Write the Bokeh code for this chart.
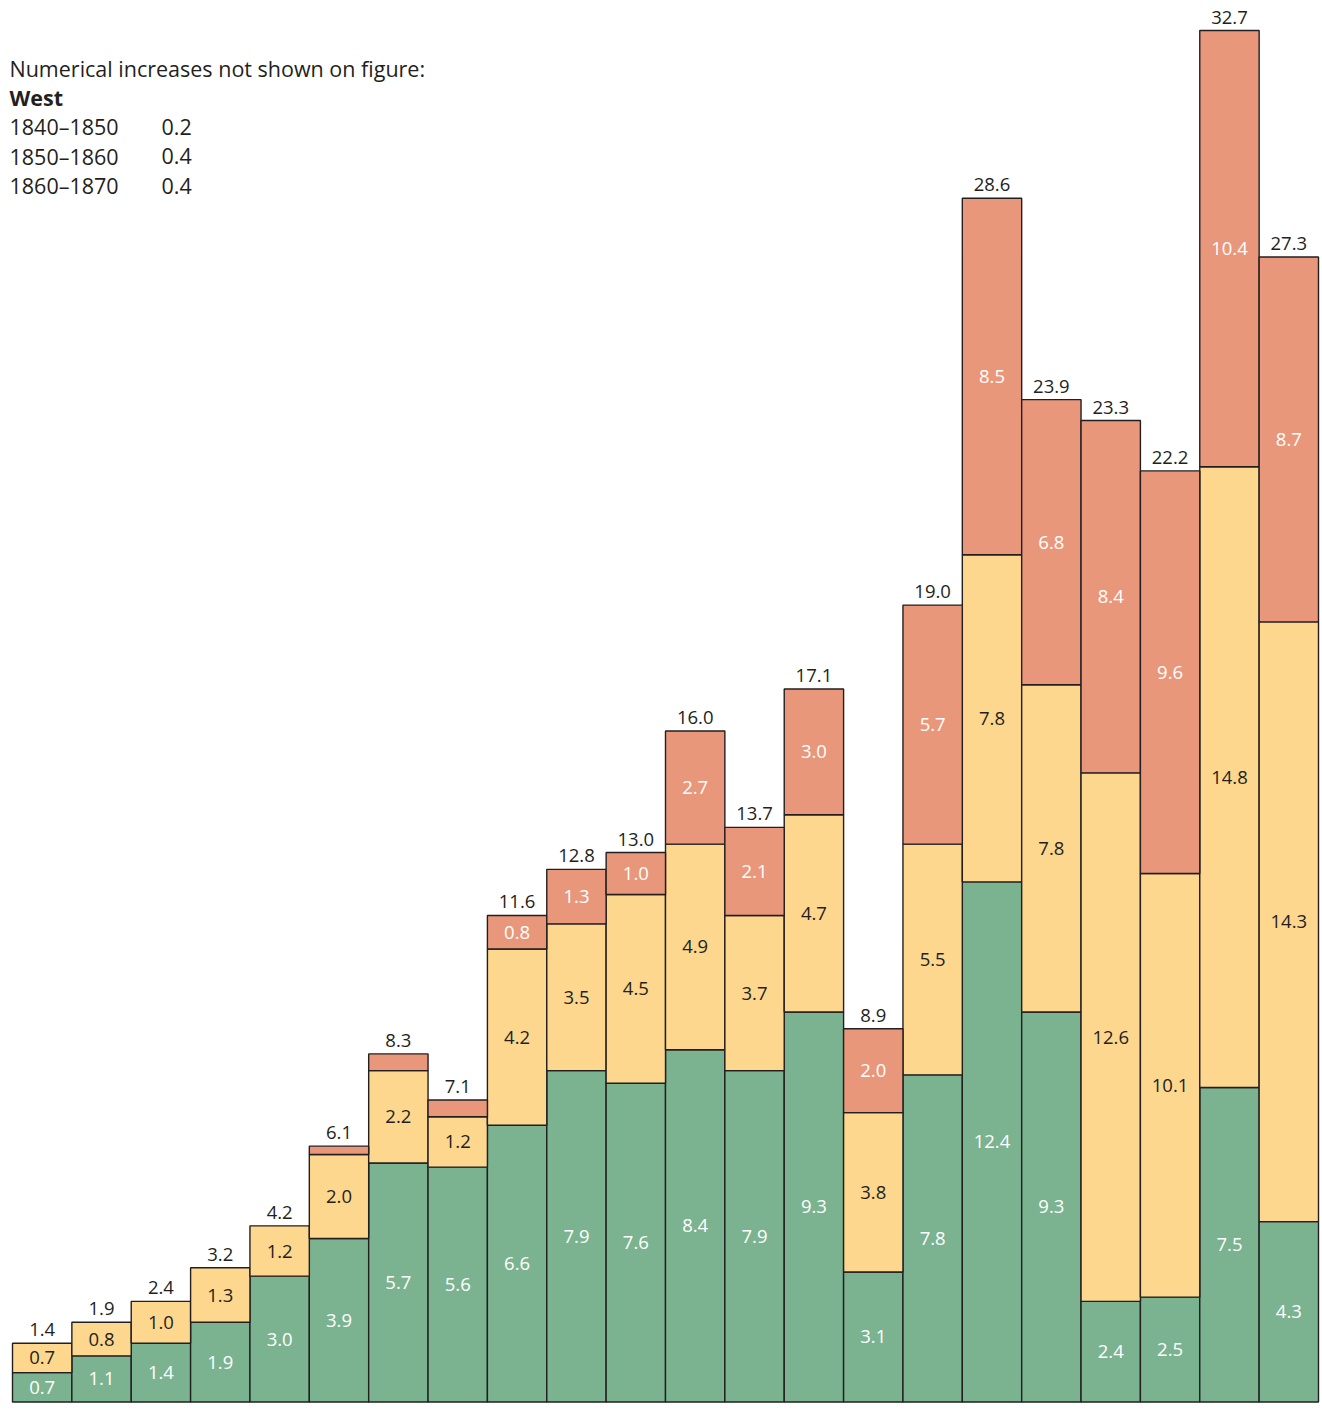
import numpy as np
from bokeh.plotting import figure
from bokeh.models import ColumnDataSource, Range1d, Label
from bokeh.core.properties import value
from bokeh.embed import file_html
from bokeh.resources import INLINE

# ---- data ----
periods = ["1790–1800", "1800–1810", "1810–1820", "1820–1830", "1830–1840",
           "1840–1850", "1850–1860", "1860–1870", "1870–1880", "1880–1890",
           "1890–1900", "1900–1910", "1910–1920", "1920–1930", "1930–1940",
           "1940–1950", "1950–1960", "1960–1970", "1970–1980", "1980–1990",
           "1990–2000", "2000–2010"]
green = [0.7, 1.1, 1.4, 1.9, 3.0, 3.9, 5.7, 5.6, 6.6, 7.9, 7.6, 8.4, 7.9, 9.3,
         3.1, 7.8, 12.4, 9.3, 2.4, 2.5, 7.5, 4.3]
yellow = [0.7, 0.8, 1.0, 1.3, 1.2, 2.0, 2.2, 1.2, 4.2, 3.5, 4.5, 4.9, 3.7, 4.7,
          3.8, 5.5, 7.8, 7.8, 12.6, 10.1, 14.8, 14.3]
red = [0.0, 0.0, 0.0, 0.0, 0.0, 0.2, 0.4, 0.4, 0.8, 1.3, 1.0, 2.7, 2.1, 3.0,
       2.0, 5.7, 8.5, 6.8, 8.4, 9.6, 10.4, 8.7]
totals = [1.4, 1.9, 2.4, 3.2, 4.2, 6.1, 8.3, 7.1, 11.6, 12.8, 13.0, 16.0, 13.7,
          17.1, 8.9, 19.0, 28.6, 23.9, 23.3, 22.2, 32.7, 27.3]
note_title = "Numerical increases not shown on figure:"
note_region = "West"
note_periods = ["1840–1850", "1850–1860", "1860–1870"]
note_values = ["0.2", "0.4", "0.4"]

C_GREEN = "#7bb390"
C_YELLOW = "#fdd78d"
C_RED = "#e9977b"
C_LINE = "#231f20"
FONT = "Open Sans"

n = len(periods)
x = np.arange(n)
g = np.array(green)
yv = np.array(yellow)
r = np.array(red)

W, H = 1322, 1410
# pixel geometry
left_px, right_px = 12, 1318
base_px, top_px = 1401.5, 30
ppu_x = (right_px - left_px) / n
ppu_y = (base_px - top_px) / max(g + yv + r)

p = figure(width=W, height=H, output_backend="svg", toolbar_location=None,
           min_border=0, min_border_left=0, min_border_right=0,
           min_border_top=0, min_border_bottom=0)
p.x_range = Range1d(-0.5 - left_px / ppu_x, -0.5 + (W - left_px) / ppu_x)
p.y_range = Range1d(-(H - base_px) / ppu_y, base_px / ppu_y)
p.axis.visible = False
p.grid.visible = False
p.outline_line_color = None
p.background_fill_color = "white"
p.border_fill_color = "white"

src = ColumnDataSource(dict(
    x=x, g0=np.zeros(n), g1=g, y1=g + yv, r1=g + yv + r,
))
p.vbar(x="x", width=1, bottom="g0", top="g1", source=src, fill_color=C_GREEN,
       line_color=C_LINE, line_width=1.4)
p.vbar(x="x", width=1, bottom="g1", top="y1", source=src, fill_color=C_YELLOW,
       line_color=C_LINE, line_width=1.4)
mask = r > 0
src_r = ColumnDataSource(dict(x=x[mask], b=(g + yv)[mask], t=(g + yv + r)[mask]))
p.vbar(x="x", width=1, bottom="b", top="t", source=src_r, fill_color=C_RED,
       line_color=C_LINE, line_width=1.4)

fs = "18.5px"
# green labels (white)
p.text(x=x, y=g / 2, text=[f"{v:.1f}" for v in g], text_color="white",
       text_align="center", text_baseline="middle", text_font=value(FONT),
       text_font_size=fs)
# yellow labels (black)
p.text(x=x, y=g + yv / 2, text=[f"{v:.1f}" for v in yv], text_color=C_LINE,
       text_align="center", text_baseline="middle", text_font=value(FONT),
       text_font_size=fs)
# red labels (white) only for segments large enough
rl = r >= 0.8
p.text(x=x[rl], y=(g + yv + r / 2)[rl], text=[f"{v:.1f}" for v in r[rl]],
       text_color="white", text_align="center", text_baseline="middle",
       text_font=value(FONT), text_font_size=fs)
# totals
p.text(x=x, y=g + yv + r, text=[f"{v:.1f}" for v in totals], text_color=C_LINE,
       text_align="center", text_baseline="bottom", y_offset=-7,
       text_font=value(FONT), text_font_size=fs)

# note block (screen coords from bottom of frame)
def sy(py):
    return H - py

nfs = "21.5px"
p.add_layout(Label(x=9, y=sy(68), x_units="screen", y_units="screen",
                   text=note_title, text_font=FONT, text_font_size=nfs,
                   text_color=C_LINE, text_baseline="alphabetic"))
p.add_layout(Label(x=9, y=sy(97), x_units="screen", y_units="screen",
                   text=note_region, text_font=FONT, text_font_size=nfs,
                   text_font_style="bold", text_color=C_LINE,
                   text_baseline="alphabetic"))
for i, (per, val) in enumerate(zip(note_periods, note_values)):
    yy = sy(126 + i * 29.5)
    p.add_layout(Label(x=9, y=yy, x_units="screen", y_units="screen",
                       text=per, text_font=FONT, text_font_size=nfs,
                       text_color=C_LINE, text_baseline="alphabetic"))
    p.add_layout(Label(x=161, y=yy, x_units="screen", y_units="screen",
                       text=val, text_font=FONT, text_font_size=nfs,
                       text_color=C_LINE, text_baseline="alphabetic"))

open("out.html", "w").write(file_html(p, INLINE))
